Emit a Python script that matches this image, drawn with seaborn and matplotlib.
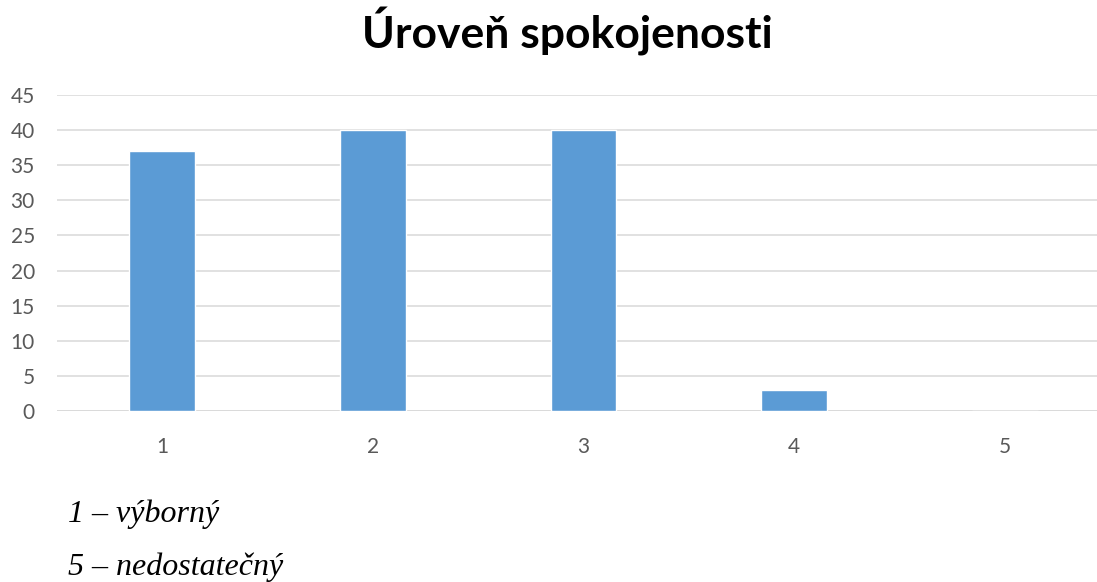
import matplotlib
matplotlib.use("Agg")
import matplotlib.pyplot as plt
import seaborn as sns
import pandas as pd

# data
hodnoceni = ["1", "2", "3", "4", "5"]
pocet = [37, 40, 40, 3, 0]
osa_y = [0, 5, 10, 15, 20, 25, 30, 35, 40, 45]

df = pd.DataFrame({"hodnoceni": hodnoceni, "pocet": pocet})

sns.set_theme(style="white")
plt.rcParams["font.family"] = ["Lato", "DejaVu Sans"]

fig = plt.figure(figsize=(10.97, 5.82), dpi=100)
ax = fig.add_axes([57 / 1097, 1 - 411 / 582, 1053 / 1097, 316 / 582])

sns.barplot(data=df, x="hodnoceni", y="pocet", color="#5B9BD5",
            width=0.313, saturation=1, ax=ax, zorder=3)

ax.set_xlim(-0.5, 4.5)
ax.set_ylim(0, 45)
ax.set_yticks(osa_y)
ax.yaxis.grid(True, color="#D9D9D9", linewidth=1.1, zorder=0)
ax.set_axisbelow(True)
for s in ax.spines.values():
    s.set_visible(False)
ax.axhline(0, color="#D9D9D9", linewidth=1.1, zorder=1)

ax.tick_params(axis="y", length=0, pad=16, labelsize=15, labelcolor="#595959")
ax.tick_params(axis="x", length=0, pad=19, labelsize=15, labelcolor="#595959")
ax.set_xlabel("")
ax.set_ylabel("")

fig.text(567 / 1097, 1 - 49 / 582, "Úroveň spokojenosti", ha="center",
         va="baseline", fontsize=32, fontweight="bold", color="#000000")

fig.text(68 / 1097, 1 - 522 / 582, "1 – výborný", ha="left", va="baseline",
         fontsize=23, fontstyle="italic", family=["Liberation Serif"],
         color="#000000")
fig.text(68 / 1097, 1 - 575 / 582, "5 – nedostatečný", ha="left",
         va="baseline", fontsize=23, fontstyle="italic",
         family=["Liberation Serif"], color="#000000")

fig.savefig("out.png", dpi=100)
